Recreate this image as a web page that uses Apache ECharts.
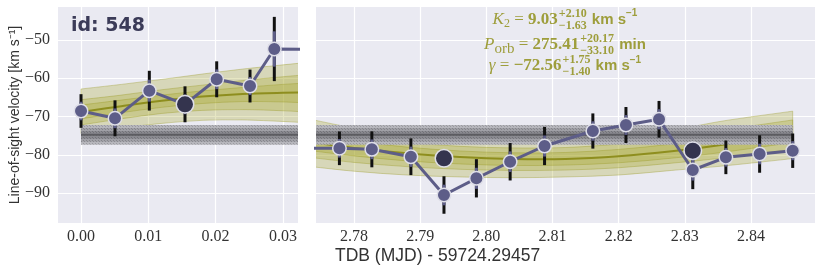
<!DOCTYPE html>
<html><head><meta charset="utf-8">
<script src="https://cdn.jsdelivr.net/npm/echarts@6/dist/echarts.min.js"></script>
<style>html,body{margin:0;padding:0;background:#fff}#c{width:831px;height:275px}</style>
</head><body><div id="c"></div>
<script>
// ---------------- data ----------------
const times = [0.0000, 0.00505, 0.01015, 0.01545, 0.02016, 0.02511, 0.02872,
  2.7778, 2.7827, 2.7886, 2.7936, 2.7985, 2.8036, 2.8088, 2.8161, 2.8211, 2.8261, 2.8312, 2.8362, 2.8413, 2.8463];
const velocities = [-68.56, -70.47, -63.25, -66.81, -60.27, -62.03, -52.35,
  -78.31, -78.58, -80.52, -90.52, -86.16, -81.82, -77.71, -73.79, -72.22, -70.73, -83.99, -80.67, -79.80, -78.94];
const errors = [4.4, 4.7, 5.2, 4.7, 4.7, 4.3, 8.4,
  4.4, 4.7, 4.8, 4.9, 5.0, 4.9, 5.0, 4.6, 4.7, 4.8, 5.0, 4.4, 4.9, 4.5];
const darkTimes = [0.01545, 2.7936, 2.8312];
const darkVelocities = [-66.81, -80.93, -78.94];

const xTicksLeft = [0.00, 0.01, 0.02, 0.03];
const xTicksRight = [2.78, 2.79, 2.80, 2.81, 2.82, 2.83, 2.84];
const yTicks = [-90, -80, -70, -60, -50];

// model (sinusoid fit) percentile bands
const modelTLeft   = [0.000, 0.006, 0.012, 0.018, 0.024, 0.030, 0.034];
const medianLeft   = [-68.8, -67.3, -65.9, -64.8, -64.1, -63.8, -63.7];
const outerUpLeft  = [-62.8, -61.6, -60.3, -58.9, -57.6, -56.5, -55.8];
const outerLoLeft  = [-74.5, -73.0, -71.8, -71.0, -70.9, -71.3, -71.7];
const midUpLeft    = [-65.6, -64.4, -63.0, -61.8, -60.6, -59.6, -59.0];
const midLoLeft    = [-72.2, -70.6, -69.2, -68.4, -68.2, -68.5, -68.9];
const innerUpLeft  = [-67.0, -65.7, -64.4, -63.3, -62.4, -61.6, -61.2];
const innerLoLeft  = [-70.6, -69.0, -67.6, -66.6, -66.1, -66.2, -66.5];

const modelTRight  = [2.772, 2.780, 2.788, 2.796, 2.804, 2.812, 2.820, 2.828, 2.836, 2.8463];
const medianRight  = [-76.4, -78.2, -79.6, -80.6, -81.1, -81.1, -80.4, -79.1, -77.3, -74.6];
const outerUpRight = [-70.2, -73.0, -75.0, -76.1, -76.5, -76.3, -75.3, -73.6, -71.1, -68.6];
const outerLoRight = [-82.8, -84.3, -85.3, -85.8, -86.0, -85.8, -85.3, -84.1, -82.9, -81.0];
const midUpRight   = [-72.6, -75.0, -76.7, -77.8, -78.2, -78.1, -77.2, -75.7, -73.5, -70.9];
const midLoRight   = [-80.4, -82.0, -83.1, -83.8, -84.1, -84.0, -83.4, -82.2, -80.8, -78.6];
const innerUpRight = [-74.2, -76.4, -78.0, -79.0, -79.5, -79.4, -78.6, -77.2, -75.1, -72.5];
const innerLoRight = [-78.6, -80.3, -81.6, -82.4, -82.8, -82.7, -82.1, -80.9, -79.3, -76.8];

// constant-velocity model band (gray)
const constT       = [0.0, 2.8463];
const constCenter  = [-74.8, -74.8];
const constOuterLo = [-77.4, -77.4];
const constOuterUp = [-72.2, -72.2];
const constMidLo   = [-76.6, -76.6];
const constMidUp   = [-73.0, -73.0];
const constInnerLo = [-75.8, -75.8];
const constInnerUp = [-73.8, -73.8];

const idLabel = 'id: 548';
const yTitle = 'Line-of-sight velocity [km s\u207B\u00B9]';
const xTitle = 'TDB (MJD) - 59724.29457';
const annotationLines = [
  [['K','it'],['2','sub'],[' = ','rg'],['9.03','bd'],[['+2.10','\u22121.63'],'stack'],[' km s','un'],['\u22121','us']],
  [['P','it'],['orb','orb'],[' = ','rg'],['275.41','bd'],[['+20.17','\u221233.10'],'stack'],[' min','un']],
  [['\u03B3','it'],[' = ','rg'],['\u221272.56','bd'],[['+1.75','\u22121.40'],'stack'],[' km s','un'],['\u22121','us']]
];

// ---------------- style ----------------
const BG = '#eaeaf2';
const PURPLE = '#5d5d88';
const DARK = '#34344e';
const EDGE = '#dedee8';
const OLIVE_FILL = 'rgba(165,165,40,0.28)';
const OLIVE_EDGE = 'rgba(150,150,30,0.45)';
const OLIVE_MED = '#8e8e1e';
const ANN = '#9e9e3c';
const SERIF = 'Liberation Serif';
const grids = [
  {left: 58, top: 7, width: 240, height: 216},
  {left: 316, top: 7, width: 499, height: 216}
];
const xRanges = [[-0.00342, 0.03224], [2.77426, 2.84967]];
const yRange = [-97.84, -41.37];

function pairs(T, V) { return T.map((t, i) => [t, V[i]]); }

// smooth path (Catmull-Rom -> cubic Bezier) through projected points
function curvePath(P, smooth, start) {
  let d = (start ? 'M' : 'L') + P[0][0].toFixed(2) + ' ' + P[0][1].toFixed(2);
  for (let i = 0; i < P.length - 1; i++) {
    const p0 = P[Math.max(i - 1, 0)], p1 = P[i], p2 = P[i + 1], p3 = P[Math.min(i + 2, P.length - 1)];
    if (!smooth) { d += 'L' + p2[0].toFixed(2) + ' ' + p2[1].toFixed(2); continue; }
    const c1 = [p1[0] + (p2[0] - p0[0]) / 6, p1[1] + (p2[1] - p0[1]) / 6];
    const c2 = [p2[0] - (p3[0] - p1[0]) / 6, p2[1] - (p3[1] - p1[1]) / 6];
    d += 'C' + c1[0].toFixed(2) + ' ' + c1[1].toFixed(2) + ' ' + c2[0].toFixed(2) + ' ' + c2[1].toFixed(2) +
      ' ' + p2[0].toFixed(2) + ' ' + p2[1].toFixed(2);
  }
  return d;
}

function bandSeries(gi, T, lo, up, fill, stroke, smooth) {
  return {type: 'custom', xAxisIndex: gi, yAxisIndex: gi, clip: true, silent: true, animation: false, z: 1,
    data: [[T[0], lo[0]]], encode: {x: 0, y: 1},
    renderItem(params, api) {
      const U = T.map((t, i) => api.coord([t, up[i]]));
      const L = T.map((t, i) => api.coord([t, lo[i]])).reverse();
      const d = curvePath(U, smooth, true) + curvePath(L, smooth, false) + 'Z';
      return {type: 'path', shape: {pathData: d},
        style: {fill: fill, stroke: stroke || 'none', lineWidth: stroke ? 0.8 : 0}};
    }};
}
function curveSeries(gi, T, V, color, width, smooth) {
  return {type: 'custom', xAxisIndex: gi, yAxisIndex: gi, clip: true, silent: true, animation: false, z: 1,
    data: [[T[0], V[0]]], encode: {x: 0, y: 1},
    renderItem(params, api) {
      const P = T.map((t, i) => api.coord([t, V[i]]));
      return {type: 'path', shape: {pathData: curvePath(P, smooth, true)},
        style: {fill: 'none', stroke: color, lineWidth: width}};
    }};
}

// dotted texture for the gray band
function dotPattern(base, dot) {
  const cv = document.createElement('canvas');
  cv.width = 3; cv.height = 3;
  const g = cv.getContext('2d');
  g.fillStyle = base; g.fillRect(0, 0, 3, 3);
  g.fillStyle = dot; g.fillRect(0, 0, 1, 1); g.fillRect(2, 2, 1, 1);
  return {image: cv, repeat: 'repeat'};
}

const series = [];
const modelSets = [
  [modelTLeft, medianLeft, outerLoLeft, outerUpLeft, midLoLeft, midUpLeft, innerLoLeft, innerUpLeft],
  [modelTRight, medianRight, outerLoRight, outerUpRight, midLoRight, midUpRight, innerLoRight, innerUpRight]
];
[0, 1].forEach(gi => {
  const [T, med, oL, oU, mL, mU, iL, iU] = modelSets[gi];
  series.push(bandSeries(gi, T, oL, oU, OLIVE_FILL, OLIVE_EDGE, true));
  series.push(bandSeries(gi, T, mL, mU, OLIVE_FILL, OLIVE_EDGE, true));
  series.push(bandSeries(gi, T, iL, iU, OLIVE_FILL, OLIVE_EDGE, true));
  series.push(curveSeries(gi, T, med, OLIVE_MED, 2, true));
  // constant model (gray, dotted)
  series.push(bandSeries(gi, constT, constOuterLo, constOuterUp, dotPattern('#b6b6bc', '#9a9aa0'), null, false));
  series.push(bandSeries(gi, constT, constMidLo, constMidUp, dotPattern('#a0a0a6', '#85858b'), null, false));
  series.push(bandSeries(gi, constT, constInnerLo, constInnerUp, dotPattern('#8a8a90', '#727278'), null, false));
  series.push(curveSeries(gi, constT, constCenter, '#5c5c61', 2, false));
  // error bars
  series.push({type: 'custom', xAxisIndex: gi, yAxisIndex: gi, clip: true, z: 3, animation: false,
    data: times.map((t, i) => [t, velocities[i], errors[i]]),
    encode: {x: 0, y: 1},
    renderItem(params, api) {
      const t = api.value(0), v = api.value(1), e = api.value(2);
      const a = api.coord([t, v + e]), b = api.coord([t, v - e]);
      const c = api.coord([t, v + e * 0.55]), d = api.coord([t, v - e * 0.55]);
      return {type: 'group', children: [
        {type: 'line', shape: {x1: a[0], y1: a[1], x2: b[0], y2: b[1]}, style: {stroke: '#111', lineWidth: 3}},
        {type: 'line', shape: {x1: c[0], y1: c[1], x2: d[0], y2: d[1]}, style: {stroke: PURPLE, lineWidth: 3}}
      ]};
    }});
  // data line
  series.push({type: 'line', xAxisIndex: gi, yAxisIndex: gi, data: pairs(times, velocities),
    symbol: 'circle', symbolSize: 13.5, showAllSymbol: true, clip: true, z: 5, animation: false,
    lineStyle: {color: PURPLE, width: 3},
    itemStyle: {color: PURPLE, borderColor: EDGE, borderWidth: 1.5}});
  series.push({type: 'scatter', xAxisIndex: gi, yAxisIndex: gi, data: pairs(darkTimes, darkVelocities),
    symbolSize: 17.5, clip: true, z: 6, animation: false,
    itemStyle: {color: DARK, borderColor: EDGE, borderWidth: 1.5, opacity: 1}});
});

const xTickSets = [xTicksLeft, xTicksRight];
const xAxis = [0, 1].map(gi => ({
  gridIndex: gi, type: 'value', min: xRanges[gi][0], max: xRanges[gi][1],
  axisLine: {show: false}, axisTick: {show: false, customValues: xTickSets[gi]},
  axisLabel: {customValues: xTickSets[gi], formatter: v => v.toFixed(2), fontFamily: SERIF, fontSize: 16,
    color: '#333', margin: 6},
  splitLine: {show: true, lineStyle: {color: '#fff', width: 1.2}}
}));
const yAxis = [0, 1].map(gi => ({
  gridIndex: gi, type: 'value', min: yRange[0], max: yRange[1],
  axisLine: {show: false}, axisTick: {show: false, customValues: yTicks},
  axisLabel: {show: gi === 0, customValues: yTicks, formatter: v => String(v).replace('-', '\u2212'),
    fontFamily: SERIF, fontSize: 16, color: '#333', margin: 8},
  splitLine: {show: true, lineStyle: {color: '#fff', width: 1.2}}
}));

// ---------------- annotation (math-like text) ----------------
const FONTS = {
  it: {fontStyle: 'italic', fontWeight: 'normal', fontSize: 17, fontFamily: SERIF, dy: 0},
  rg: {fontStyle: 'normal', fontWeight: 'normal', fontSize: 17, fontFamily: SERIF, dy: 0},
  bd: {fontStyle: 'normal', fontWeight: 'bold', fontSize: 17, fontFamily: SERIF, dy: 0},
  sub: {fontStyle: 'normal', fontWeight: 'normal', fontSize: 12, fontFamily: SERIF, dy: 4},
  orb: {fontStyle: 'normal', fontWeight: 'normal', fontSize: 15, fontFamily: SERIF, dy: 5},
  sm: {fontStyle: 'normal', fontWeight: 'bold', fontSize: 12, fontFamily: SERIF, dy: 0},
  un: {fontStyle: 'normal', fontWeight: 'bold', fontSize: 15, fontFamily: 'Liberation Sans', dy: 0},
  us: {fontStyle: 'normal', fontWeight: 'bold', fontSize: 10, fontFamily: 'Liberation Sans', dy: -6}
};
const mctx = document.createElement('canvas').getContext('2d');
function measure(text, f) {
  mctx.font = `${f.fontStyle} ${f.fontWeight} ${f.fontSize}px "${f.fontFamily}"`;
  return mctx.measureText(text).width;
}
function txt(x, y, text, f) {
  return {type: 'text', x: x, y: y, silent: true, z: 100,
    style: {text: text, fill: ANN, fontStyle: f.fontStyle, fontWeight: f.fontWeight, fontSize: f.fontSize,
      fontFamily: f.fontFamily, align: 'left', verticalAlign: 'middle'}};
}
const annCenterX = 565;
const annY = [19.5, 44.5, 66];
const graphics = [];
annotationLines.forEach((line, li) => {
  const widths = line.map(([t, k]) => k === 'stack'
    ? Math.max(measure(t[0], FONTS.sm), measure(t[1], FONTS.sm)) + 2
    : measure(t, FONTS[k]));
  const total = widths.reduce((a, b) => a + b, 0);
  let x = annCenterX - total / 2;
  const y = annY[li];
  line.forEach(([t, k], i) => {
    if (k === 'stack') {
      graphics.push(txt(x + 1, y - 6, t[0], FONTS.sm));
      graphics.push(txt(x + 1, y + 6, t[1], FONTS.sm));
    } else {
      graphics.push(txt(x, y + FONTS[k].dy, t, FONTS[k]));
    }
    x += widths[i];
  });
});
graphics.push({type: 'text', x: 71, y: 26, silent: true, z: 100,
  style: {text: idLabel, fill: '#3b3b58', fontWeight: 'bold', fontSize: 19, fontFamily: 'DejaVu Sans',
    align: 'left', verticalAlign: 'middle'}});
graphics.push({type: 'text', x: 15, y: 115, rotation: Math.PI / 2, silent: true, z: 100,
  style: {text: yTitle, fill: '#333', fontSize: 14, fontFamily: 'Liberation Sans', align: 'center', verticalAlign: 'middle'}});
graphics.push({type: 'text', x: 335, y: 256, silent: true, z: 100,
  style: {text: xTitle, fill: '#333', fontSize: 17.5, fontFamily: 'Liberation Sans', align: 'left', verticalAlign: 'middle'}});

const chart = echarts.init(document.getElementById('c'), null, {renderer: 'canvas'});
chart.setOption({
  animation: false,
  backgroundColor: '#fff',
  grid: grids.map(g => Object.assign({show: true, backgroundColor: BG, borderWidth: 0, containLabel: false}, g)),
  xAxis: xAxis,
  yAxis: yAxis,
  series: series,
  graphic: graphics
});
</script></body></html>
